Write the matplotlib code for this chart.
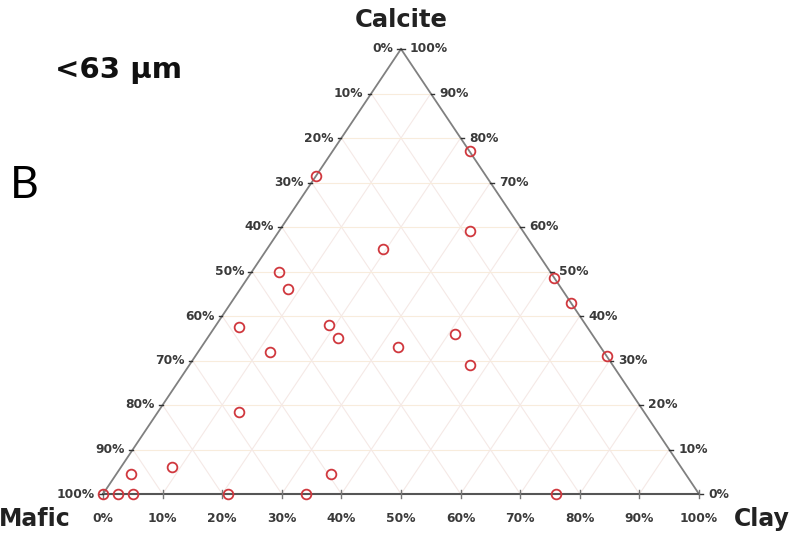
import numpy as np
import matplotlib.pyplot as plt

# sample compositions, % (mafic = 100 - clay - calcite)
clay = [0, 19.5, 23, 32, 4.5, 8, 4, 19, 22, 12, 33, 13.5, 8.5, 2.5, 36,
        0, 2.5, 5, 21, 34, 51.5, 57, 41, 47, 69, 76]
calcite = [71.5, 55, 77, 59, 50, 46, 37.5, 38, 35, 32, 33, 18.5, 6, 4.5, 4.5,
           0, 0, 0, 0, 0, 48.5, 43, 36, 29, 31, 0]

grid_steps = np.arange(10, 100, 10)
tick_steps = np.arange(0, 110, 10)


def to_xy(b, c):
    # b = clay fraction, c = calcite fraction
    b = np.asarray(b, dtype=float)
    c = np.asarray(c, dtype=float)
    return b + c / 2, c


fig = plt.figure(figsize=(7.99, 5.39), dpi=100)
W, H = 799, 539
x0, x1, ybot, ytop = 103, 699, 494, 49
ax = fig.add_axes([x0 / W, (H - ybot) / H, (x1 - x0) / W, (ybot - ytop) / H])
ax.set_xlim(0, 1)
ax.set_ylim(0, 1)
ax.axis('off')

# grid
for k in grid_steps / 100:
    # constant calcite
    xs, ys = to_xy([0, 1 - k], [k, k])
    ax.plot(xs, ys, color='#f8ecdc', lw=0.8, zorder=1)
    # constant clay
    xs, ys = to_xy([k, k], [0, 1 - k])
    ax.plot(xs, ys, color='#f5e9e6', lw=0.8, zorder=1)
    # constant mafic
    xs, ys = to_xy([1 - k, 0], [0, 1 - k])
    ax.plot(xs, ys, color='#f5e9e6', lw=0.8, zorder=1)

# triangle frame
xs, ys = to_xy([0, 0], [0, 1])
ax.plot(xs, ys, color='#808080', lw=1.3, zorder=2, clip_on=False)
xs, ys = to_xy([1, 0], [0, 1])
ax.plot(xs, ys, color='#808080', lw=1.3, zorder=2, clip_on=False)
xs, ys = to_xy([0, 1], [0, 0])
ax.plot(xs, ys, color='#555555', lw=1.5, zorder=2, clip_on=False)

tick_kw = dict(fontsize=8.8, fontweight='bold', color='#3a3a3a')
for v in tick_steps:
    f = v / 100
    # left axis: mafic
    lx, ly = to_xy(0, 1 - f)
    ax.plot([lx - 0.006, lx], [ly, ly], color='#333333', lw=1, clip_on=False)
    ax.annotate(f'{v}%', (lx, ly), xytext=(-8, 0), textcoords='offset pixels',
                ha='right', va='center', **tick_kw)
    # right axis: calcite
    rx, ry = to_xy(1 - f, f)
    ax.plot([rx, rx + 0.006], [ry, ry], color='#333333', lw=1, clip_on=False)
    ax.annotate(f'{v}%', (rx, ry), xytext=(9, 0), textcoords='offset pixels',
                ha='left', va='center', **tick_kw)
    # bottom axis: clay
    bx, by = to_xy(f, 0)
    ax.plot([bx, bx], [-0.01, 0.01], color='#777777', lw=1, clip_on=False)
    ax.annotate(f'{v}%', (bx, by), xytext=(0, -24), textcoords='offset pixels',
                ha='center', va='center', **tick_kw)

px, py = to_xy(np.array(clay) / 100, np.array(calcite) / 100)
ax.plot(px, py, 'o', ms=7, mfc='none', mec='#d0383e', mew=1.3, zorder=5,
        clip_on=False)

fig.text(401 / W, 1 - 20 / H, 'Calcite', ha='center', va='center',
         fontsize=17.5, fontweight='bold', color='#222222')
fig.text(71 / W, 1 - 519 / H, 'Mafic', ha='right', va='center',
         fontsize=17, fontweight='bold', color='#222222')
fig.text(734 / W, 1 - 519 / H, 'Clay', ha='left', va='center',
         fontsize=17, fontweight='bold', color='#222222')
fig.text(55 / W, 1 - 70 / H, '<63 µm', ha='left', va='center',
         fontsize=21, fontweight='bold', color='#111111')
fig.text(10 / W, 1 - 186 / H, 'B', ha='left', va='center',
         fontsize=32, family='Lato', color='#000000')

fig.savefig('out.png', dpi=100)
